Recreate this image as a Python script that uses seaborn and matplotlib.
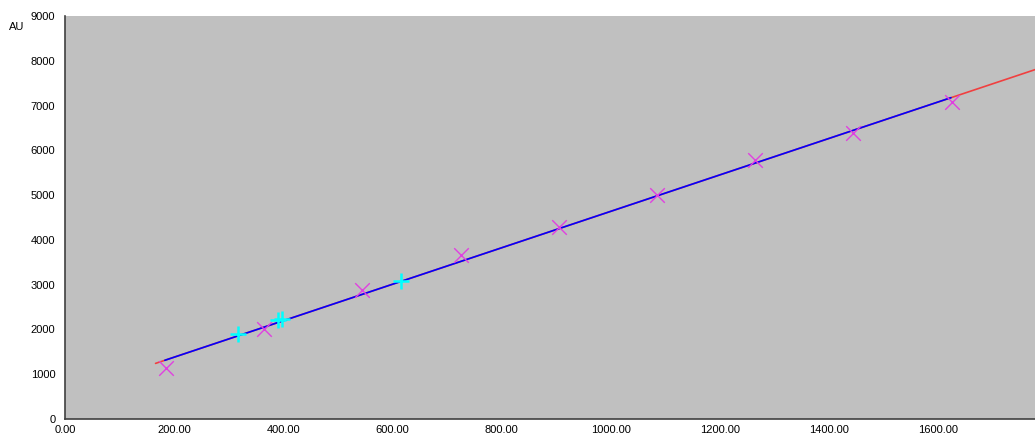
import pandas as pd
import numpy as np
import matplotlib
matplotlib.use("Agg")
import matplotlib.pyplot as plt
import seaborn as sns

# calibration standards (magenta x)
std_conc = [185, 365, 545, 725, 905, 1085, 1265, 1445, 1625]
std_au = [1150, 2020, 2880, 3660, 4280, 5010, 5790, 6390, 7070]

# samples (cyan +)
smp_conc = [317, 390, 398, 616]
smp_au = [1890, 2200, 2230, 3080]

# fitted line: red full span, blue over the standards range
fit_x = [166, 1780]
fit_y = [1242, 7810]
cal_x = [183, 1624]
cal_y = [1311, 7176]

x_ticks = [0, 200, 400, 600, 800, 1000, 1200, 1400, 1600]
y_ticks = [0, 1000, 2000, 3000, 4000, 5000, 6000, 7000, 8000, 9000]

sns.set_style("white")
plt.rcParams["font.family"] = ["Liberation Sans", "DejaVu Sans"]

fig = plt.figure(figsize=(10.35, 4.36), dpi=100)
ax = fig.add_axes([65 / 1035, 17 / 436, 970 / 1035, 403 / 436])
ax.set_facecolor("#c0c0c0")

sns.lineplot(x=fit_x, y=fit_y, ax=ax, color="#f04040", linewidth=1.2)
sns.lineplot(x=cal_x, y=cal_y, ax=ax, color="#0000ff", linewidth=1.2)
sns.scatterplot(x=std_conc, y=std_au, ax=ax, marker="x", color="#e040e0",
                s=110, linewidth=1.0, zorder=3)
sns.scatterplot(x=smp_conc, y=smp_au, ax=ax, marker="+", color="#00ffff",
                s=120, linewidth=1.8, zorder=4)

ax.set_xlim(0, 1778)
ax.set_ylim(0, 9000)
ax.set_xticks(x_ticks)
ax.set_xticklabels([f"{v:.2f}" for v in x_ticks])
ax.set_yticks(y_ticks)
ax.set_yticklabels([str(v) for v in y_ticks])
ax.tick_params(axis="both", labelsize=8, length=5, width=1, color="#404040",
               labelcolor="black", pad=2, direction="out")
ax.tick_params(axis="x", length=4, pad=0)

for side in ["top", "right"]:
    ax.spines[side].set_visible(False)
for side in ["left", "bottom"]:
    ax.spines[side].set_color("#404040")
    ax.spines[side].set_linewidth(1.2)

fig.text(9 / 1035, 1 - 27 / 436, "AU", fontsize=8, va="center", ha="left",
         color="black")

fig.savefig("out.png", dpi=100, facecolor="white")
